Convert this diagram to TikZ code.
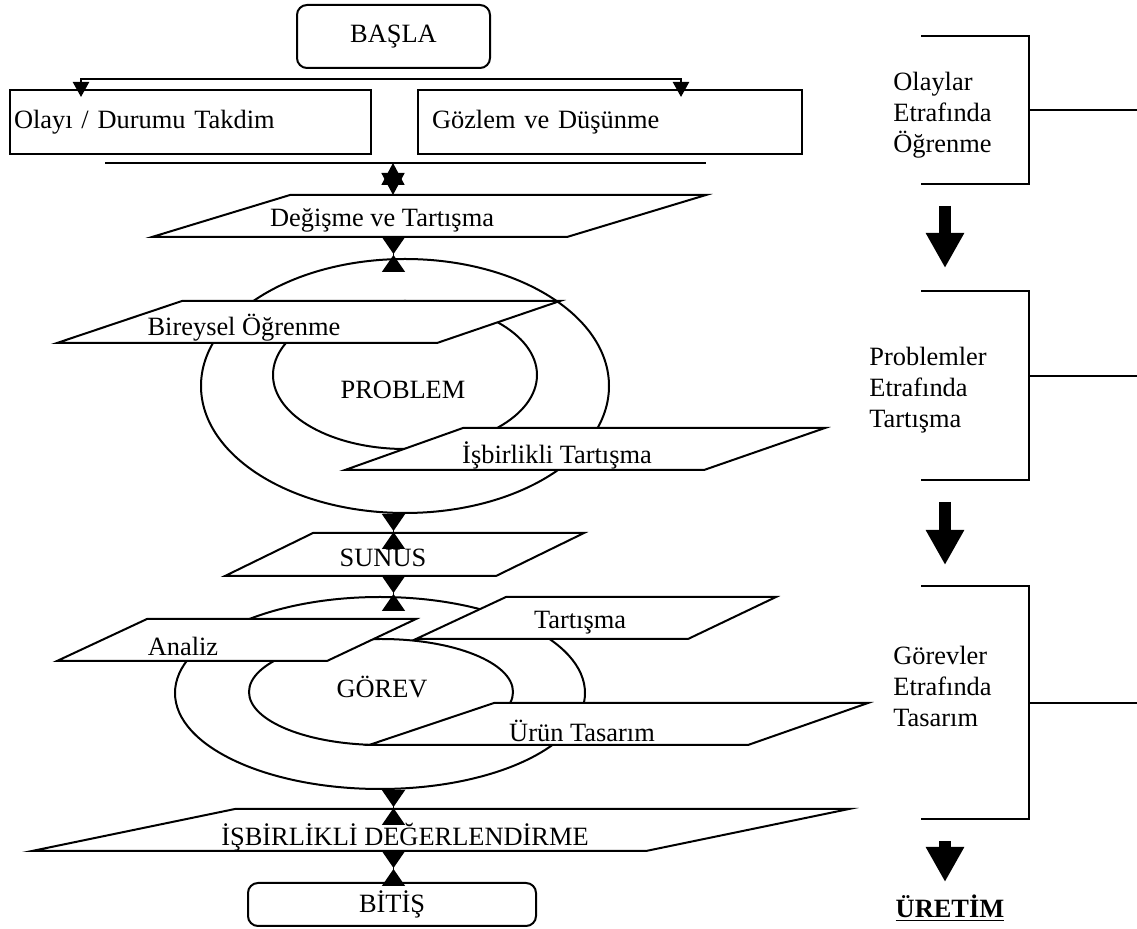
\documentclass[tikz,border=0pt]{standalone}
\usepackage{fontspec}
\setmainfont{Liberation Serif}
\usetikzlibrary{arrows.meta,shapes.geometric}

\tikzset{
  every node/.style={font=\fontsize{13.2}{15.5}\selectfont},
  line/.style={line width=1pt},
  box/.style={draw, line width=1pt, minimum height=32pt, align=left},
  endbox/.style={draw, line width=1pt, rounded corners=5pt},
  para/.style={line width=1pt, fill=white},
  oval/.style={ellipse, draw, line width=1pt, inner sep=0pt},
  side/.style={anchor=west, align=left, inner sep=0pt},
  conn/.style={line width=1.2pt, {Triangle[width=8pt,length=7.5pt]}-{Triangle[width=8pt,length=7.5pt]}},
  hglass/.style={line width=0.8pt, {Triangle[reversed,width=11.5pt,length=8.5pt]}-{Triangle[reversed,width=11.5pt,length=8.5pt]}},
  hexa/.style={line width=0.8pt, {Triangle[width=11.5pt,length=11pt]}-{Triangle[width=11.5pt,length=11pt]}},
  bigarrow/.style={line width=6pt, -{Triangle[width=18pt,length=17.5pt]}}
}

\begin{document}
\begin{tikzpicture}[x=0.5pt,y=-0.5pt]
    \useasboundingbox (0,0) rectangle (1137,929);

    % start and the two first boxes
    \node[endbox, minimum width=96.5pt, minimum height=31.5pt] (basla) at (393.5,36.5) {BAŞLA};
    \node[box, text width=176.5pt, inner xsep=2pt, anchor=north west] (olay) at (9,89) {Olayı / Durumu Takdim};
    \node[box, text width=178pt, inner xsep=7pt, anchor=north west] (gozlem) at (417,89) {Gözlem ve Düşünme};

    \coordinate (olay-in) at (81,97);
    \coordinate (gozlem-in) at (681,97);
    \coordinate (split) at (393,79);
    \draw[conn] (olay-in) |- (split) -| (gozlem-in);

    \draw[line] (105,163) -- (706,163);

    % ovals
    \node[oval, minimum width=204pt, minimum height=127pt] (outer1) at (405,386) {};
    \node[oval, minimum width=132pt, minimum height=74pt] (inner1) at (405,375) {};
    \node[oval, minimum width=205pt, minimum height=96pt] (outer2) at (380,693) {};
    \node[oval, minimum width=132pt, minimum height=53pt] (inner2) at (381,692) {};

    % parallelograms
    \foreach \tl/\tr/\yt/\bl/\br/\yb in {290/706/195/152/567/237,182/560/301/57/437/343,463/825/428/345/704/470,313/584/533/225/496/576,147/416/619/57/327/661,506/776/597/416/688/639,494/868/703/369/748/745,235/849/809/32/646/851}
        \draw[para] (\tl,\yt) -- (\tr,\yt) -- (\br,\yb) -- (\bl,\yb) -- cycle;

    \node (problem) at (403,390) {PROBLEM};
    \node (gorev) at (382,687) {GÖREV};
    \node (degisme) at (382,220) {Değişme ve Tartışma};
    \node (bireysel) at (244,328) {Bireysel Öğrenme};
    \node (isbirlikli) at (557,455) {İşbirlikli Tartışma};
    \node (sunus) at (383,558) {SUNUS};
    \node (analiz) at (183,646) {Analiz};
    \node (tartisma) at (580,623) {Tartışma};
    \node (urun) at (582,731) {Ürün Tasarım};
    \node (degerlendirme) at (405,837) {İŞBİRLİKLİ DEĞERLENDİRME};
    \node[endbox, minimum width=144pt, minimum height=21.5pt] (bitis) at (392,904.5) {BİTİŞ};

    % links
    \coordinate (sep) at (393,163);
    \coordinate (degisme-n) at (393,195);
    \coordinate (degisme-s) at (393,237);
    \coordinate (sunus-s) at (393,576);
    \coordinate (degerlendirme-s) at (393,851);
    \draw[hexa] (sep) -- (degisme-n);
    \foreach \a in {degisme-s,outer1.south,sunus-s,outer2.south,degerlendirme-s}
        \draw[hglass] (\a -| basla) -- ++(0,35);

    % right column
    \foreach \t/\m/\b in {36/110/184,291/376/480,586/703/819} {
        \draw[line] (921,\t) -| (1029,\b) -- (921,\b);
        \draw[line] (1029,\m) -- (1137,\m);
    }
    \node[side] (olaylar) at (893,115) {Olaylar\\Etrafında\\Öğrenme};
    \node[side] (problemler) at (869,390) {Problemler\\Etrafında\\Tartışma};
    \node[side] (gorevler) at (893,686) {Görevler\\Etrafında\\Tasarım};

    \foreach \s/\e in {206/268,502/565,841/882} \draw[bigarrow] (945,\s) -- (945,\e);

    \node (uretim) at (950,908) {\textbf{\underline{ÜRETİM}}};

\end{tikzpicture}
\end{document}
